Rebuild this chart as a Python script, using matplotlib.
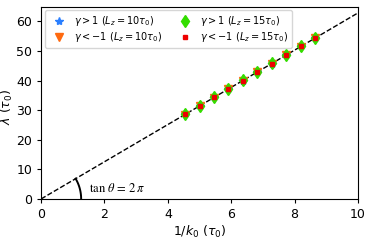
# Wavelength vs 1/k0 with the lambda = 2*pi/k0 reference line
import numpy as np
import matplotlib.pyplot as plt

# data
inv_k0 = [4.55, 5.0, 5.46, 5.91, 6.37, 6.82, 7.28, 7.73, 8.19, 8.65]
lam_pos_10 = [28.6, 31.4, 34.3, 37.1, 40.0, 42.9, 45.7, 48.6, 51.5, 54.3]
lam_neg_10 = [28.5, 31.4, 34.2, 37.1, 40.0, 42.8, 45.7, 48.6, 51.4, 54.3]
lam_pos_15 = [28.7, 31.5, 34.4, 37.2, 40.1, 42.9, 45.8, 48.7, 51.5, 54.4]
lam_neg_15 = [28.6, 31.4, 34.3, 37.1, 40.0, 42.9, 45.7, 48.6, 51.5, 54.3]
line_x = [0, 10]
slope = 2 * np.pi

fig = plt.figure(figsize=(3.74, 2.42), dpi=100)
ax = fig.add_axes([0.110, 0.178, 0.847, 0.795])

ax.plot(line_x, [slope * v for v in line_x], 'k--', lw=1, zorder=1)
ax.plot(inv_k0, lam_pos_10, ls='none', marker='*', ms=6, color='#2a7fff',
        label=r'$\gamma>1\ (L_z=10\tau_0)$', zorder=2)
ax.plot(inv_k0, lam_neg_10, ls='none', marker='v', ms=6, color='#ff6a10',
        label=r'$\gamma<-1\ (L_z=10\tau_0)$', zorder=3)
ax.plot(inv_k0, lam_pos_15, ls='none', marker='d', ms=6, color='#33dd00',
        label=r'$\gamma>1\ (L_z=15\tau_0)$', zorder=4)
ax.plot(inv_k0, lam_neg_15, ls='none', marker='s', ms=3, color='#ee0000',
        label=r'$\gamma<-1\ (L_z=15\tau_0)$', zorder=5)

ax.set_xlim(0, 10)
ax.set_ylim(0, 65)
ax.set_xticks([0, 2, 4, 6, 8, 10])
ax.set_yticks([0, 10, 20, 30, 40, 50, 60])
ax.tick_params(labelsize=9, length=3)
ax.set_xlabel(r'$1/k_0\ (\tau_0)$', fontsize=9, labelpad=2)
ax.set_ylabel(r'$\lambda\ (\tau_0)$', fontsize=9)
ax.yaxis.set_label_coords(-0.082, 0.48)

# angle arc drawn as a circle in screen space
sx = ax.transData.transform((1, 0))[0] - ax.transData.transform((0, 0))[0]
sy = ax.transData.transform((0, 1))[1] - ax.transData.transform((0, 0))[1]
theta = np.arctan2(slope * sy, sx)
t = np.linspace(0, theta, 50)
r = 40
ax.plot(r * np.cos(t) / sx, r * np.sin(t) / sy, 'k-', lw=1.4)
ax.text(1.5, 2.3, r'$\tan\,\theta\,=\,2\,\pi$', fontsize=9, math_fontfamily='stix')

ax.legend(loc='upper left', ncol=2, fontsize=7, handletextpad=0.6,
          columnspacing=1.3, borderaxespad=0.4, labelspacing=0.2)

fig.savefig('out.png', dpi=100)
